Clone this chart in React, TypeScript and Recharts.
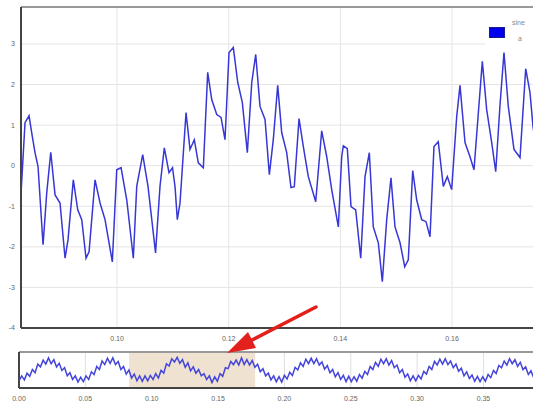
import React from 'react';
import { LineChart, Line, XAxis, YAxis, CartesianGrid, ReferenceLine, ReferenceArea } from 'recharts';

// main (zoomed) view
const mainT = [
  0.08281, 0.08352, 0.08424, 0.08472, 0.08531, 0.08585, 0.08675, 0.08741, 0.08813, 0.0889,
  0.08979, 0.09069, 0.09122, 0.09217, 0.09296, 0.09368, 0.09445, 0.09499, 0.09606, 0.09696,
  0.09785, 0.09916, 0.09995, 0.10072, 0.10174, 0.10292, 0.10353, 0.1046, 0.10555, 0.1069,
  0.1077, 0.10847, 0.10931, 0.10994, 0.11039, 0.1108, 0.11128, 0.11236, 0.11307, 0.11384,
  0.11456, 0.11546, 0.11624, 0.11696, 0.11786, 0.11863, 0.11934, 0.12006, 0.12083, 0.12162,
  0.12244, 0.12334, 0.12413, 0.12484, 0.12561, 0.12651, 0.12728, 0.12799, 0.12878, 0.1295,
  0.13039, 0.13116, 0.13175, 0.1326, 0.13337, 0.13426, 0.13559, 0.13666, 0.13756, 0.13845,
  0.13964, 0.14024, 0.14053, 0.14125, 0.14191, 0.14275, 0.14365, 0.14442, 0.14519, 0.1459,
  0.1468, 0.14752, 0.1483, 0.14907, 0.14979, 0.15069, 0.15153, 0.15217, 0.15296, 0.15367,
  0.15457, 0.15534, 0.15606, 0.15677, 0.15754, 0.15844, 0.15916, 0.15994, 0.16084, 0.16143,
  0.16233, 0.16322, 0.16394, 0.16466, 0.16543, 0.16621, 0.16711, 0.16783, 0.1686, 0.16931,
  0.17008, 0.1711, 0.17218, 0.1732, 0.17397, 0.17451, 0.17522, 0.17594,
];
const mainV = [
  -0.67, 1.06, 1.23, 0.81, 0.32, -0.02, -1.95, -0.67, 0.33, -0.72,
  -0.92, -2.28, -1.83, -0.35, -1.09, -1.33, -2.28, -2.12, -0.35, -0.92,
  -1.33, -2.37, -0.1, -0.05, -0.84, -2.28, -0.51, 0.27, -0.51, -2.15,
  -0.5, 0.44, -0.17, -0.05, -0.52, -1.33, -0.92, 1.31, 0.4, 0.64,
  0.07, -0.05, 2.3, 1.63, 1.26, 1.19, 0.64, 2.79, 2.91, 2.05,
  1.56, 0.32, 2.05, 2.74, 1.46, 1.14, -0.22, 0.64, 1.98, 0.81,
  0.32, -0.54, -0.52, 1.16, 0.47, -0.27, -0.89, 0.86, 0.22, -0.59,
  -1.51, 0.22, 0.49, 0.42, -1.01, -1.09, -2.28, -0.27, 0.32, -1.51,
  -1.9, -2.86, -1.33, -0.3, -1.51, -1.9, -2.49, -2.32, -0.12, -0.84,
  -1.33, -1.38, -1.75, 0.47, 0.59, -0.51, -0.27, -0.59, 1.21, 1.98,
  0.57, 0.22, -0.1, 1.2, 2.57, 1.38, 0.57, -0.15, 1.5, 2.79,
  1.46, 0.4, 0.2, 2.39, 1.8, 0.96, 0.3, -0.2,
];

// overview strip, one value per half cycle of the fast ripple
const navStep = 0.00202;
const navV = [
  -2.4, -1.3, -2.2, -0.7, -1.4, 0.1, -0.6, 1.3, 0.7, 2.2, 1.3, 2.7, 1.4, 2.3, 0.7, 1.5,
  -0.1, 0.5, -1.3, -0.6, -2.1, -1.3, -2.7, -1.6, -2.6, -1.3, -2.1, -0.4, -1.0, 0.8, 0.1, 2.0,
  1.2, 2.6, 1.5, 2.7, 1.2, 1.9, 0.1, 0.8, -0.9, 0.0, -1.8, -0.9, -2.4, -1.3, -2.5, -1.3,
  -2.4, -1.2, -2.1, -0.8, -1.8, -0.1, -0.7, 1.4, 0.9, 2.5, 1.8, 2.8, 1.5, 2.3, 0.6, 1.6,
  -0.2, 0.7, -0.7, 0.1, -1.3, -0.8, -2.1, -1.3, -2.8, -1.5, -2.5, -0.8, -1.4, 0.5, 0.3, 1.9,
  1.2, 2.2, 1.1, 2.7, 1.2, 2.3, 1.1, 2.1, 0.6, 1.3, -0.4, 0.3, -1.3, -0.7, -2.2, -1.3,
  -2.6, -1.5, -2.7, -1.2, -2.0, -0.5, -1.2, 0.6, 0.0, 1.6, 0.8, 2.4, 1.4, 2.6, 1.4, 2.5,
  1.1, 1.8, 0.2, 1.0, -0.6, 0.1, -1.5, -0.6, -2.1, -1.2, -2.6, -1.4, -2.6, -1.5, -2.5, -1.0,
  -1.8, -0.3, -1.0, 0.8, 0.1, 1.7, 0.8, 2.4, 1.4, 2.5, 1.1, 2.1, 0.5, 1.1, -0.6, 0.1,
  -1.6, -0.9, -2.4, -1.3, -2.4, -1.2, -2.0, -0.3, -0.9, 0.8, 0.1, 1.9, 1.1, 2.4, 1.3, 2.5,
  1.2, 2.0, 0.5, 1.3, -0.3, 0.4, -1.3, -0.4, -1.9, -1.1, -2.5, -1.4, -2.6, -1.5, -2.5, -1.0,
  -1.7, -0.1, -0.8, 1.0, 0.5, 2.0, 1.1, 2.5, 1.4, 2.3, 0.8, 1.7, 0.1, 0.7, -1.0, -0.2,
  -1.7, -0.9, -2.4, -1.3,
];

const mainTicksX = [0.1, 0.12, 0.14, 0.16];
const mainTicksY = [-4, -3, -2, -1, 0, 1, 2, 3];
const navTicksX = [0, 0.05, 0.1, 0.15, 0.2, 0.25, 0.3, 0.35];
const selection = [0.083, 0.178];

const mainData = mainT.map((t, i) => ({ t, v: mainV[i] }));
const navData = navV.map((v, i) => ({ t: i * navStep, v }));

const tickStyle = { fill: '#666', fontSize: 7, fontFamily: 'Liberation Sans, Arial, sans-serif' };
const fmt = (v: number) => v.toFixed(2);

export default function App() {
  return (
    <div style={{ position: 'absolute', left: 0, top: 0, width: 533, height: 412, overflow: 'hidden', background: '#fff' }}>
      <div style={{ position: 'absolute', left: 0, top: 0 }}>
        <LineChart width={540} height={350} data={mainData} margin={{ top: 7, right: 0, bottom: 0, left: 0 }}>
          <CartesianGrid stroke="#e4e4e4" />
          <XAxis
            type="number"
            dataKey="t"
            domain={[0.0828, 0.17576]}
            allowDataOverflow
            ticks={mainTicksX}
            tickFormatter={fmt}
            tick={tickStyle}
            tickSize={0}
            tickMargin={8}
            height={22}
            axisLine={{ stroke: '#444', strokeWidth: 2 }}
          />
          <YAxis
            domain={[-4, 3.91]}
            allowDataOverflow
            ticks={mainTicksY}
            tick={tickStyle}
            tickSize={0}
            tickMargin={6}
            width={21}
            axisLine={{ stroke: '#444', strokeWidth: 2 }}
          />
          <ReferenceLine y={3.91} stroke="#999" strokeWidth={2} />
          <Line type="linear" dataKey="v" stroke="#3737d6" strokeWidth={1.5} dot={false} isAnimationActive={false} />
        </LineChart>
      </div>

      <div style={{ position: 'absolute', left: 0, top: 345 }}>
        <LineChart width={540} height={65} data={navData} margin={{ top: 7, right: 0, bottom: 0, left: 19 }}>
          <ReferenceArea x1={selection[0]} x2={selection[1]} y1={-4} y2={4} fill="#efe2d0" fillOpacity={1} stroke="none" />
          <CartesianGrid stroke="#dedede" horizontal={false} />
          <XAxis
            type="number"
            dataKey="t"
            domain={[0, 0.3926]}
            allowDataOverflow
            ticks={navTicksX}
            tickFormatter={fmt}
            tick={tickStyle}
            tickSize={0}
            tickMargin={8}
            height={22}
            axisLine={{ stroke: '#444', strokeWidth: 2 }}
          />
          <YAxis hide domain={[-4, 4]} allowDataOverflow />
          <ReferenceLine y={4} stroke="#999" strokeWidth={2} />
          <ReferenceLine x={0} stroke="#444" strokeWidth={2} />
          <Line type="linear" dataKey="v" stroke="#4545da" strokeWidth={1.5} dot={false} isAnimationActive={false} />
        </LineChart>
      </div>

      {/* legend box, top right */}
      <div style={{ position: 'absolute', left: 485, top: 14, width: 60, height: 34, background: '#fff' }}>
        <div style={{ position: 'absolute', left: 4, top: 13, width: 14, height: 9, background: '#0000ee', border: '1px solid #1a1a8a' }} />
        <span style={{ position: 'absolute', left: 27, top: 5, fontSize: 7, color: '#888', fontFamily: 'Liberation Sans, Arial, sans-serif' }}>sine</span>
        <span style={{ position: 'absolute', left: 33, top: 21, fontSize: 7, color: '#888', fontFamily: 'Liberation Sans, Arial, sans-serif' }}>a</span>
      </div>

      {/* red arrow pointing at the selected range */}
      <svg width={533} height={412} style={{ position: 'absolute', left: 0, top: 0, pointerEvents: 'none' }}>
        <line x1={316} y1={307} x2={250} y2={341} stroke="#e3201b" strokeWidth={3.5} strokeLinecap="round" />
        <polygon points="227,353 256,348 248,332" fill="#e3201b" />
      </svg>
    </div>
  );
}
